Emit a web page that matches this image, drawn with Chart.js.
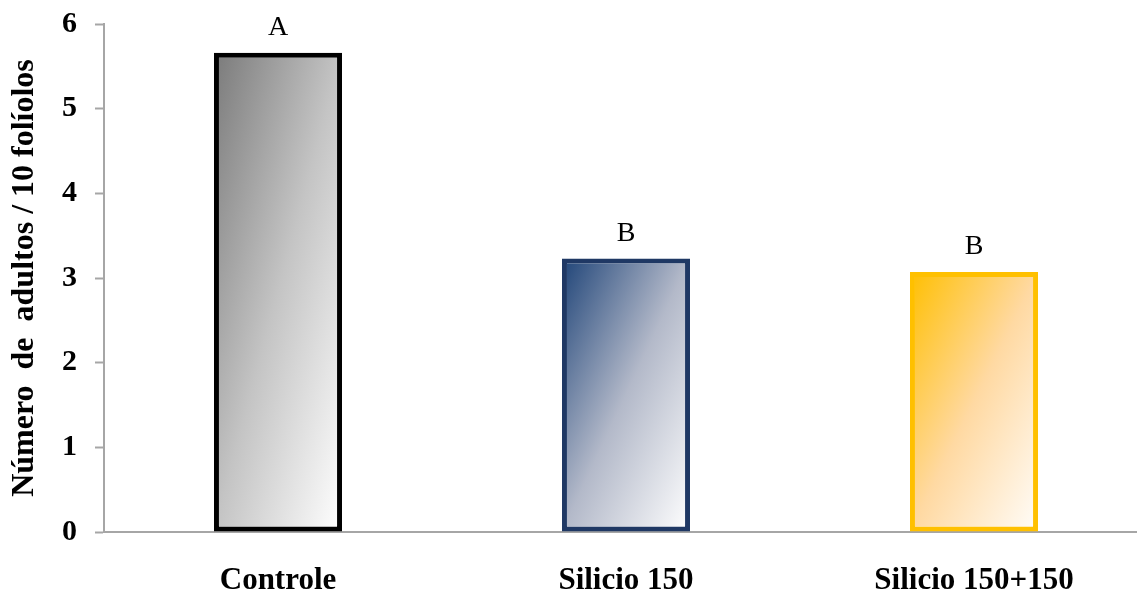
<!DOCTYPE html>
<html>
<head>
<meta charset="utf-8">
<script src="https://cdn.jsdelivr.net/npm/chart.js@4"></script>
<style>
  html, body { margin: 0; padding: 0; background: #ffffff; overflow: hidden; }
  #wrap { width: 1148px; height: 591px; }
</style>
</head>
<body>
<div id="wrap"><canvas id="chart" width="1148" height="591"></canvas></div>
<script>
// Treatments and mean adults per 10 leaflets
const categories = ['Controle', 'Silicio 150', 'Silicio 150+150'];
const adultos = [5.66, 3.23, 3.07];
const letras = ['A', 'B', 'B'];
const yTicks = [0, 1, 2, 3, 4, 5, 6];

// Per-bar diagonal gradient stops and outlines
const gradStops = [
  [[0, '#7a7a7a'], [0.5, '#c4c4c4'], [1, '#ffffff']],
  [[0, '#1f4478'], [0.5, '#b3b9c9'], [1, '#ffffff']],
  [[0, '#ffbf00'], [0.5, '#ffd9a2'], [1, '#fffdfa']]
];
const borderColors = ['#000000', '#1f3864', '#ffc000'];
const BAR_PCT = 0.368;
const SERIF = '"Liberation Serif", "Times New Roman", serif';

function barFill(ctx) {
  const chart = ctx.chart;
  const i = ctx.dataIndex;
  if (ctx.type !== 'data' || !chart.chartArea || !chart.scales.x || !chart.scales.y) {
    return gradStops[i || 0][1][1];
  }
  const xs = chart.scales.x, ys = chart.scales.y;
  const w = (xs.width / categories.length) * BAR_PCT;
  const l = xs.getPixelForValue(i) - w / 2;
  const t = ys.getPixelForValue(adultos[i]);
  const h = ys.getPixelForValue(0) - t;
  // gradient whose iso-lines run along the bar's anti-diagonal
  const k = 2 / (1 / (w * w) + 1 / (h * h));
  const g = chart.ctx.createLinearGradient(l, t, l + k / w, t + k / h);
  gradStops[i].forEach(s => g.addColorStop(s[0], s[1]));
  return g;
}

// Significance letters above each bar
const letterPlugin = {
  id: 'letters',
  afterDatasetsDraw(chart) {
    const meta = chart.getDatasetMeta(0);
    const c = chart.ctx;
    c.save();
    c.font = '28px ' + SERIF;
    c.fillStyle = '#000000';
    c.textAlign = 'center';
    c.textBaseline = 'alphabetic';
    meta.data.forEach((bar, i) => {
      c.fillText(letras[i], bar.x, bar.y - 18);
    });
    c.restore();
  }
};

new Chart(document.getElementById('chart'), {
  type: 'bar',
  data: {
    labels: categories,
    datasets: [{
      data: adultos,
      backgroundColor: barFill,
      borderColor: borderColors,
      borderWidth: 5,
      borderSkipped: false,
      categoryPercentage: 1,
      barPercentage: BAR_PCT
    }]
  },
  options: {
    responsive: false,
    animation: false,
    events: [],
    layout: { padding: { top: 24, right: 0, bottom: 0, left: 0 } },
    plugins: {
      legend: { display: false },
      tooltip: { enabled: false }
    },
    scales: {
      x: {
        grid: { display: false },
        border: { display: true, color: '#a6a6a6', width: 2 },
        ticks: {
          color: '#000000',
          padding: 22,
          maxRotation: 0,
          font: { family: SERIF, size: 31, weight: 'bold' }
        },
        afterFit(scale) {
          scale.height = 59;
          scale.paddingLeft = 0;
          scale.paddingRight = 0;
        }
      },
      y: {
        min: 0,
        max: 6,
        afterBuildTicks(scale) { scale.ticks = yTicks.map(v => ({ value: v })); },
        grid: {
          drawOnChartArea: false,
          drawTicks: true,
          tickLength: 9,
          tickWidth: 2,
          tickColor: '#a6a6a6'
        },
        border: { display: true, color: '#a6a6a6', width: 2 },
        ticks: {
          color: '#000000',
          padding: 18,
          font: { family: SERIF, size: 30, weight: 'bold' }
        },
        title: {
          display: true,
          text: 'Número  de  adultos / 10 folíolos',
          color: '#000000',
          padding: { top: 6, bottom: 0 },
          font: { family: SERIF, size: 32, weight: 'bold' }
        },
        afterFit(scale) {
          scale.width = 104;
          scale.paddingTop = 0;
          scale.paddingBottom = 0;
        }
      }
    }
  },
  plugins: [letterPlugin]
});
</script>
</body>
</html>
